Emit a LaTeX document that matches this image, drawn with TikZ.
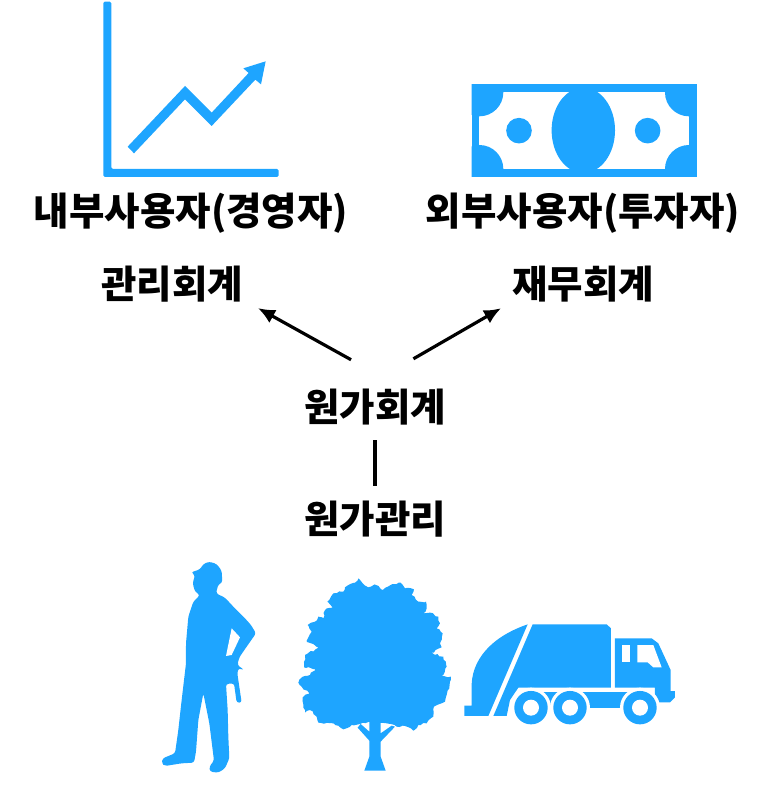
\documentclass[tikz,border=0pt]{standalone}
\usepackage{fontspec}
\usetikzlibrary{arrows.meta,decorations.pathmorphing}
\newfontfamily\kor{Noto Sans CJK KR}
\definecolor{iconblue}{HTML}{1EA5FF}
\tikzset{
	label/.style={font=\kor\bfseries\fontsize{38.5}{38.5}\selectfont, inner sep=0pt, text height=30pt, text depth=6pt},
	link/.style={line width=3.2pt, black},
	icon/.style={fill=iconblue, draw=none},
	gap/.style={fill=white, draw=none},
}
\pgfmathsetseed{7}
\begin{document}
\begin{tikzpicture}[x=1pt, y=-1pt]
	\useasboundingbox (0,0) rectangle (773,789);
	\node[label] (inner) at (191,213) {내부사용자(경영자)};
	\node[label] (outer) at (583,213) {외부사용자(투자자)};
	\node[label] (mgmt) at (172,286) {관리회계};
	\node[label] (fin) at (583,286) {재무회계};
	\node[label] (cost) at (375,409) {원가회계};
	\node[label] (control) at (375,521) {원가관리};
	\draw[link, -{Latex[length=17pt,width=15pt]}, shorten <=64pt, shorten >=8pt] ([xshift=32pt]cost.north) -- ([xshift=79pt]mgmt.south);
	\draw[link, -{Latex[length=17pt,width=15pt]}, shorten <=64pt, shorten >=8pt] ([xshift=-17pt]cost.north) -- ([xshift=-75pt]fin.south);
	\draw[link, shorten <=13pt, shorten >=17pt] (cost.south) -- (control.north);
	% chart
	\begin{scope}[shift={(90,0)}, x=0.3333pt, y=-0.3333pt]
		\fill[icon, rounded corners=1.5pt] (40,5) -- (64,5) -- (64,507) -- (566,507) -- (566,531) -- (40,531) -- cycle;
		\fill[icon] (113,440) -- (285,258) -- (365,338) -- (476,219) -- (460,205) -- (527,184) -- (513,253) -- (496,239)
			-- (365,378) -- (285,298) -- (132,460) -- cycle;
	\end{scope}
	% bill
	\begin{scope}[shift={(460,70)}, x=0.3333pt, y=-0.3333pt]
		\fill[icon] (35,43) rectangle (710,321);
		\fill[gap] (58,67) rectangle (687,297);
		\begin{scope}
			\clip (35,43) rectangle (710,321);
			\foreach \i\j in {58/67,58/297,687/67,687/297}{
				\fill[icon] (\i,\j) circle (24pt);
			}
			\fill[icon] (370,181) ellipse (31.7pt and 42.7pt);
		\end{scope}
		\foreach \i in {177,563}{
			\fill[icon] (\i,182) circle (12.8pt);
		}
	\end{scope}
	% worker
	\begin{scope}[shift={(150,550)}, x=0.3333pt, y=-0.3333pt]
		\fill[icon, rounded corners=2.5pt] (123,67) -- (150,58) -- (160,42) -- (178,35) -- (200,42) -- (215,62) -- (217,98) -- (205,103)
			-- (198,130) -- (225,143) -- (250,170) -- (285,205) -- (303,225) -- (318,250) -- (290,290) -- (268,322) -- (262,345)
			-- (283,360) -- (265,355) -- (262,370) -- (275,458) -- (260,458) -- (252,400) -- (228,402) -- (233,480) -- (235,560)
			-- (238,625) -- (225,655) -- (205,668) -- (180,665) -- (178,650) -- (192,632) -- (178,520) -- (160,430) -- (145,510)
			-- (138,605) -- (132,638) -- (95,640) -- (45,648) -- (35,640) -- (38,625) -- (75,610) -- (85,540) -- (95,450)
			-- (108,340) -- (108,280) -- (115,200) -- (130,155) -- (150,135) -- (135,125) -- (128,100) -- (135,75) -- cycle;
		\fill[gap] (245,235) -- (270,262) -- (245,315) -- (228,318) -- cycle;
	\end{scope}
	% tree
	\begin{scope}[shift={(290,560)}, x=0.3333pt, y=-0.3333pt]
		\fill[icon, decorate, decoration={random steps, segment length=3pt, amplitude=1pt}] (205,55) -- (218,70) -- (235,82) -- (258,75) -- (278,90) -- (308,72) -- (332,68) -- (345,85)
			-- (372,88) -- (365,105) -- (385,125) -- (408,125) -- (410,145) -- (400,160) -- (420,158) -- (445,170) -- (450,190)
			-- (440,205) -- (458,220) -- (450,250) -- (455,262) -- (425,278) -- (460,290) -- (470,320) -- (455,348) -- (483,350)
			-- (478,385) -- (470,405) -- (465,425) -- (432,440) -- (430,470) -- (410,490) -- (385,495) -- (370,512) -- (345,498)
			-- (320,500) -- (290,490) -- (238,485) -- (210,492) -- (185,495) -- (160,508) -- (130,490) -- (85,488) -- (80,470)
			-- (60,450) -- (45,458) -- (38,412) -- (58,400) -- (35,380) -- (25,368) -- (38,350) -- (60,345) -- (75,328) -- (42,322)
			-- (45,285) -- (85,263) -- (50,242) -- (65,215) -- (53,195) -- (75,185) -- (85,170) -- (100,175) -- (105,150)
			-- (128,143) -- (112,125) -- (130,100) -- (160,95) -- (165,82) -- (195,68) -- cycle;
		\fill[icon] (223,632) -- (238,590) -- (238,542) -- (203,503) -- (212,492) -- (238,515) -- (238,480) -- (272,480) -- (272,520)
			-- (305,497) -- (315,500) -- (272,545) -- (272,590) -- (287,632) -- cycle;
	\end{scope}
	% truck
	\begin{scope}[shift={(455,610)}, x=0.3333pt, y=-0.3333pt]
		\fill[icon] (218,43) .. controls (110,80) and (45,150) .. (50,240) -- (50,287) -- (28,287) -- (28,318) -- (100,318) -- cycle;
		\fill[icon] (233,43) -- (455,43) -- (468,55) -- (468,233) -- (190,233) -- (165,270) -- (155,318) -- (115,318) -- cycle;
		\fill[icon] (480,85) -- (590,85) -- (610,100) -- (647,180) -- (647,243) -- (660,243) -- (660,262) -- (645,277) -- (600,277)
			-- (600,233) -- (480,233) -- cycle;
		\fill[icon] (228,245) rectangle (540,295);
		\foreach \i in {228,345,555}{
			\fill[gap] (\i,293) circle (20pt);
			\fill[icon] (\i,293) circle (16.7pt);
			\fill[gap] (\i,293) circle (8pt);
		}
		\fill[gap] (500,105) rectangle (525,157);
		\fill[gap] (547,105) -- (595,105) -- (620,172) -- (595,172) -- (578,157) -- (547,157) -- cycle;
	\end{scope}
\end{tikzpicture}
\end{document}
